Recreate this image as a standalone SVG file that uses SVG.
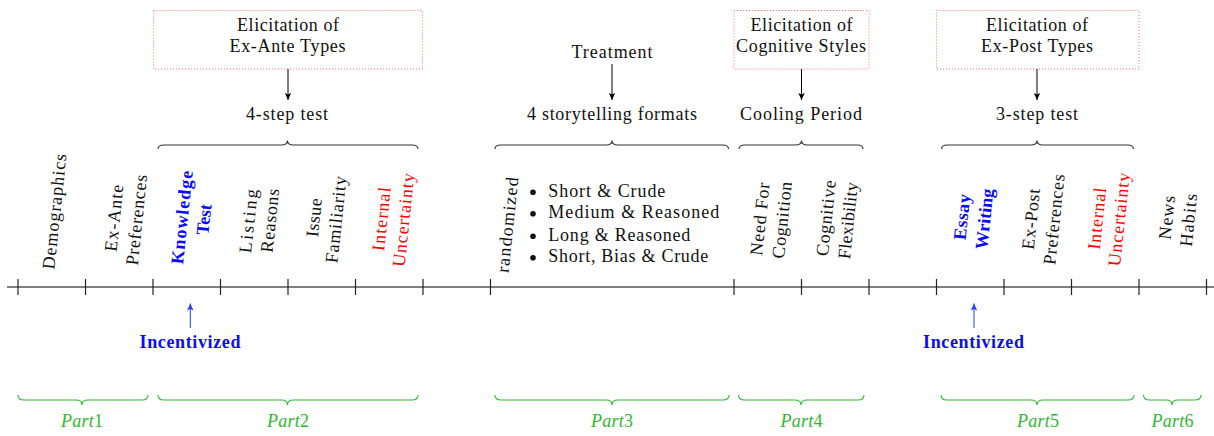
<svg xmlns="http://www.w3.org/2000/svg" width="1214" height="436" viewBox="0 0 1214 436">
<style>
text{font-family:"Liberation Serif","Times New Roman",serif;font-size:18px;fill:#111}
.c{text-anchor:middle}
.rot{text-anchor:middle}
.b{font-weight:bold}
.blue{fill:#0a0aff}
.red{fill:#ff0000}
.green{fill:#2eb82e}
.box{fill:none;stroke:#ff7070;stroke-width:1;stroke-dasharray:1 2}
.brace{fill:none;stroke:#333;stroke-width:1.1}
.gbrace{fill:none;stroke:#2eb82e;stroke-width:1.1}
.conn{fill:none;stroke:#000;stroke-width:1}
.bconn{fill:none;stroke:#2040ff;stroke-width:1}
.axis{stroke:#000;stroke-width:1.2}
.tick{stroke:#222;stroke-width:1.2}
</style>
<defs>
<marker id="ah" markerUnits="userSpaceOnUse" markerWidth="10" markerHeight="10" refX="7" refY="4" orient="auto"><path d="M0,0.8 L7,4 L0,7.2 L1.6,4 z" fill="#000"/></marker>
<marker id="ahb" markerUnits="userSpaceOnUse" markerWidth="10" markerHeight="10" refX="7" refY="4" orient="auto"><path d="M0,0.8 L7,4 L0,7.2 L1.6,4 z" fill="#2040ff"/></marker>
</defs>

<g id="axis">
<line class="axis" x1="7" y1="287" x2="1214" y2="287"/>
<g class="tick">
<line x1="18" y1="279" x2="18" y2="295"/>
<line x1="85.5" y1="279" x2="85.5" y2="295"/>
<line x1="153" y1="279" x2="153" y2="295"/>
<line x1="220.5" y1="279" x2="220.5" y2="295"/>
<line x1="288" y1="279" x2="288" y2="295"/>
<line x1="355.5" y1="279" x2="355.5" y2="295"/>
<line x1="423" y1="279" x2="423" y2="295"/>
<line x1="490.5" y1="279" x2="490.5" y2="295"/>
<line x1="734" y1="279" x2="734" y2="295"/>
<line x1="801.5" y1="279" x2="801.5" y2="295"/>
<line x1="869" y1="279" x2="869" y2="295"/>
<line x1="936.5" y1="279" x2="936.5" y2="295"/>
<line x1="1004" y1="279" x2="1004" y2="295"/>
<line x1="1071.5" y1="279" x2="1071.5" y2="295"/>
<line x1="1139" y1="279" x2="1139" y2="295"/>
<line x1="1206.5" y1="279" x2="1206.5" y2="295"/>
</g>
</g>

<g id="elicit-exante">
<rect class="box" x="153.5" y="10.5" width="269" height="58.5"/>
<text class="c" x="288" y="31" textLength="102">Elicitation of</text>
<text class="c" x="287.5" y="52" textLength="116">Ex-Ante Types</text>
</g>
<g id="treatment"><text class="c" x="612" y="58" textLength="81">Treatment</text></g>
<g id="elicit-cognitive">
<rect class="box" x="734" y="10.5" width="135" height="58.5"/>
<text class="c" x="801.5" y="31" textLength="102">Elicitation of</text>
<text class="c" x="801" y="52" textLength="130">Cognitive Styles</text>
</g>
<g id="elicit-expost">
<rect class="box" x="936.5" y="10.5" width="202.5" height="58.5"/>
<text class="c" x="1037" y="31" textLength="102">Elicitation of</text>
<text class="c" x="1037" y="52" textLength="112">Ex-Post Types</text>
</g>

<g id="step4"><text class="c" x="287" y="120" textLength="82">4-step test</text></g>
<g id="formats"><text class="c" x="612" y="120" textLength="170">4 storytelling formats</text></g>
<g id="cooling"><text class="c" x="801" y="120" textLength="122">Cooling Period</text></g>
<g id="step3"><text class="c" x="1037" y="120" textLength="82">3-step test</text></g>

<g id="top-braces">
<path class="brace" d="M158,149 C158,146 160,145 164,145 L281.5,145 C285.5,145 287.5,144 287.5,140.5 C287.5,144 289.5,145 293.5,145 L412,145 C416,145 418,146 418,149"/>
<path class="brace" d="M495,149 C495,146 497,145 501,145 L606,145 C610,145 612,144 612,140.5 C612,144 614,145 618,145 L722.5,145 C726.5,145 728.5,146 728.5,149"/>
<path class="brace" d="M739,149 C739,146 741,145 745,145 L795.5,145 C799.5,145 801.5,144 801.5,140.5 C801.5,144 803.5,145 807.5,145 L857,145 C861,145 863,146 863,149"/>
<path class="brace" d="M941.5,149 C941.5,146 943.5,145 947.5,145 L1031,145 C1035,145 1037,144 1037,140.5 C1037,144 1039,145 1043,145 L1127.5,145 C1131.5,145 1133.5,146 1133.5,149"/>
</g>

<g id="demographics"><text class="rot" dy="0.33em" transform="translate(54.5,211.5) rotate(-84)" textLength="116">Demographics</text></g>
<g id="exante-pref">
<text class="rot" dy="0.33em" transform="translate(114,218) rotate(-84)" textLength="67">Ex-Ante</text>
<text class="rot" dy="0.33em" transform="translate(136.5,220) rotate(-84)" textLength="91">Preferences</text>
</g>
<g id="knowledge-test">
<text class="rot b blue" dy="0.33em" transform="translate(182,217.5) rotate(-84)" textLength="94">Knowledge</text>
<text class="rot b blue" dy="0.33em" transform="translate(204,219.5) rotate(-84)" textLength="31">Test</text>
</g>
<g id="listing-reasons">
<text class="rot" dy="0.33em" transform="translate(248.5,221) rotate(-84)" textLength="64">Listing</text>
<text class="rot" dy="0.33em" transform="translate(270,220.5) rotate(-84)" textLength="64">Reasons</text>
</g>
<g id="issue-familiarity">
<text class="rot" dy="0.33em" transform="translate(314,217.5) rotate(-84)" textLength="39">Issue</text>
<text class="rot" dy="0.33em" transform="translate(336,219.5) rotate(-84)" textLength="87">Familiarity</text>
</g>
<g id="internal-uncertainty-1">
<text class="rot red" dy="0.33em" transform="translate(381.5,219) rotate(-84)" textLength="64">Internal</text>
<text class="rot red" dy="0.33em" transform="translate(403.5,220) rotate(-84)" textLength="94">Uncertainty</text>
</g>

<g id="randomized">
<text class="rot" dy="0.33em" transform="translate(507.5,225) rotate(-84)" textLength="96">randomized</text>
<circle cx="533" cy="192.3" r="2.8" fill="#111"/>
<circle cx="533" cy="213.8" r="2.8" fill="#111"/>
<circle cx="533" cy="236.2" r="2.8" fill="#111"/>
<circle cx="533" cy="257.8" r="2.8" fill="#111"/>
<text x="548.3" y="196.7" textLength="117">Short &amp; Crude</text>
<text x="548.3" y="218.3" textLength="171">Medium &amp; Reasoned</text>
<text x="548.3" y="240.7" textLength="142">Long &amp; Reasoned</text>
<text x="548.3" y="262.3" textLength="160">Short, Bias &amp; Crude</text>
</g>

<g id="need-cognition">
<text class="rot" dy="0.33em" transform="translate(760,219) rotate(-84)" textLength="73">Need For</text>
<text class="rot" dy="0.33em" transform="translate(782,220) rotate(-84)" textLength="77">Cognition</text>
</g>
<g id="cognitive-flexibility">
<text class="rot" dy="0.33em" transform="translate(826,218) rotate(-84)" textLength="76">Cognitive</text>
<text class="rot" dy="0.33em" transform="translate(848,220.5) rotate(-84)" textLength="77">Flexibility</text>
</g>
<g id="essay-writing">
<text class="rot b blue" dy="0.33em" transform="translate(962,217) rotate(-84)" textLength="46">Essay</text>
<text class="rot b blue" dy="0.33em" transform="translate(984.5,219) rotate(-84)" textLength="61">Writing</text>
</g>
<g id="expost-pref">
<text class="rot" dy="0.33em" transform="translate(1031,219) rotate(-84)" textLength="61">Ex-Post</text>
<text class="rot" dy="0.33em" transform="translate(1054,219.5) rotate(-84)" textLength="91">Preferences</text>
</g>
<g id="internal-uncertainty-2">
<text class="rot red" dy="0.33em" transform="translate(1097,218.5) rotate(-84)" textLength="62">Internal</text>
<text class="rot red" dy="0.33em" transform="translate(1119,219.5) rotate(-84)" textLength="94">Uncertainty</text>
</g>
<g id="news-habits">
<text class="rot" dy="0.33em" transform="translate(1167,217.5) rotate(-84)" textLength="44">News</text>
<text class="rot" dy="0.33em" transform="translate(1188.5,220) rotate(-84)" textLength="53">Habits</text>
</g>

<g id="incentivized-1"><text class="c b blue" x="190" y="347.7" textLength="101">Incentivized</text></g>
<g id="incentivized-2"><text class="c b blue" x="973.5" y="347.7" textLength="101">Incentivized</text></g>

<g id="connectors">
<line class="conn" x1="288" y1="69" x2="288" y2="100" marker-end="url(#ah)"/>
<line class="conn" x1="612" y1="64" x2="612" y2="100" marker-end="url(#ah)"/>
<line class="conn" x1="801.5" y1="69" x2="801.5" y2="100" marker-end="url(#ah)"/>
<line class="conn" x1="1037" y1="69" x2="1037" y2="100" marker-end="url(#ah)"/>
<line class="bconn" x1="190.3" y1="328" x2="190.3" y2="303.5" marker-end="url(#ahb)"/>
<line class="bconn" x1="974" y1="328" x2="974" y2="303.5" marker-end="url(#ahb)"/>
</g>

<g id="bottom-braces">
<path class="gbrace" d="M18,395 C18,398 20,400 24,400 L76,400 C80,400 82,401 82,405 C82,401 84,400 88,400 L142,400 C146,400 148,398 148,395"/>
<path class="gbrace" d="M158,395 C158,398 160,400 164,400 L281.5,400 C285.5,400 287.5,401 287.5,405 C287.5,401 289.5,400 293.5,400 L412,400 C416,400 418,398 418,395"/>
<path class="gbrace" d="M495,395 C495,398 497,400 501,400 L606,400 C610,400 612,401 612,405 C612,401 614,400 618,400 L723,400 C727,400 729,398 729,395"/>
<path class="gbrace" d="M738.5,395 C738.5,398 740.5,400 744.5,400 L795,400 C799,400 801,401 801,405 C801,401 803,400 807,400 L858,400 C862,400 864,398 864,395"/>
<path class="gbrace" d="M941,395 C941,398 943,400 947,400 L1031,400 C1035,400 1037,401 1037,405 C1037,401 1039,400 1043,400 L1128,400 C1132,400 1134,398 1134,395"/>
<path class="gbrace" d="M1143.5,395 C1143.5,398 1145.5,400 1149.5,400 L1166,400 C1170,400 1172,401 1172,405 C1172,401 1174,400 1178,400 L1195,400 C1199,400 1201,398 1201,395"/>
</g>

<g id="part1"><text class="c green" x="82" y="427" textLength="42"><tspan font-style="italic">Part</tspan>1</text></g>
<g id="part2"><text class="c green" x="288" y="427" textLength="42"><tspan font-style="italic">Part</tspan>2</text></g>
<g id="part3"><text class="c green" x="612" y="427" textLength="42"><tspan font-style="italic">Part</tspan>3</text></g>
<g id="part4"><text class="c green" x="801.5" y="427" textLength="42"><tspan font-style="italic">Part</tspan>4</text></g>
<g id="part5"><text class="c green" x="1038" y="427" textLength="42"><tspan font-style="italic">Part</tspan>5</text></g>
<g id="part6"><text class="c green" x="1172.5" y="427" textLength="42"><tspan font-style="italic">Part</tspan>6</text></g>
</svg>
